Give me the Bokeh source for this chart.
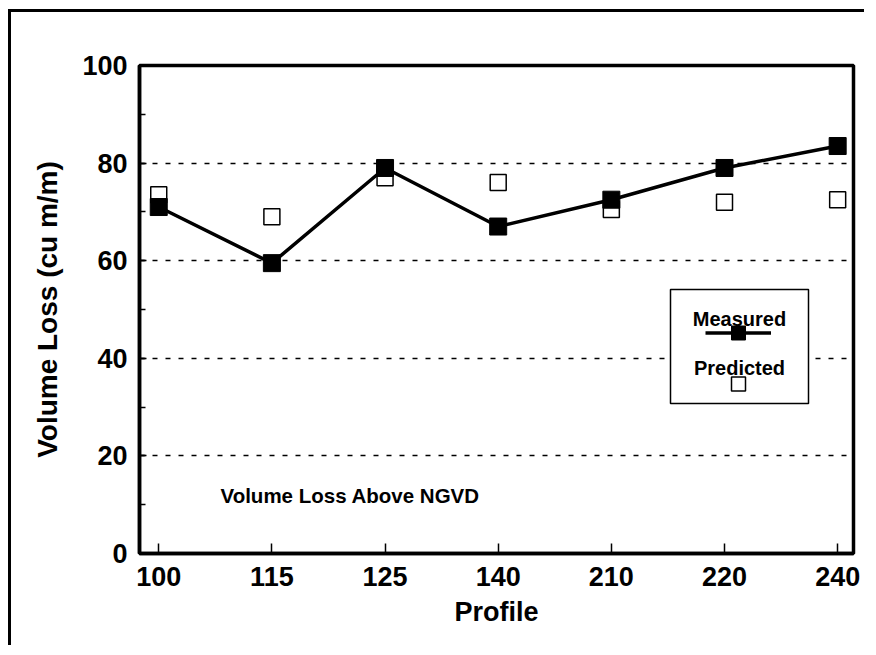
from bokeh.plotting import figure
from bokeh.models import (Range1d, FixedTicker, SingleIntervalTicker, Label, BoxAnnotation,
                          Legend, LegendItem, ColumnDataSource)
from bokeh.embed import file_html
from bokeh.resources import INLINE

profiles = ["100", "115", "125", "140", "210", "220", "240"]
measured = [71, 59.5, 79, 67, 72.5, 79, 83.5]
predicted = [73.5, 69, 77, 76, 70.5, 72, 72.5]

FONT = "Liberation Sans"

idx = list(range(len(profiles)))
src = ColumnDataSource(dict(x=idx, m=measured, p=predicted))

p = figure(width=856, height=636, output_backend="svg", toolbar_location=None,
           x_range=Range1d(-0.17, 6.14), y_range=Range1d(0, 100),
           min_border_left=128, min_border_right=14, min_border_top=53, min_border_bottom=95)
p.styles = {"border-left": "3px solid black", "border-top": "3px solid black",
            "margin-left": "8px", "margin-top": "9px"}
p.background_fill_color = "white"
p.border_fill_color = "white"
p.outline_line_color = "black"
p.outline_line_width = 3.5

# axes
p.xaxis.ticker = FixedTicker(ticks=idx)
p.xaxis.major_label_overrides = {i: s for i, s in zip(idx, profiles)}
p.yaxis.ticker = SingleIntervalTicker(interval=20, num_minor_ticks=2)
for ax in (p.xaxis, p.yaxis):
    ax.axis_line_width = 3.5
    ax.axis_line_color = "black"
    ax.major_tick_out = 0
    ax.minor_tick_out = 0
    ax.major_tick_line_width = 1.5
    ax.minor_tick_line_width = 1.5
    ax.major_label_text_font = FONT
    ax.major_label_text_font_style = "bold"
    ax.major_label_text_font_size = "27px"
    ax.major_label_text_color = "black"
    ax.axis_label_text_font = FONT
    ax.axis_label_text_font_style = "bold"
    ax.axis_label_text_color = "black"
p.xaxis.axis_label_text_font_size = "27px"
p.yaxis.axis_label_text_font_size = "28px"
p.xaxis.major_tick_in = 10
p.xaxis.minor_tick_in = 0
p.yaxis.major_tick_in = 7
p.yaxis.minor_tick_in = 6
p.xaxis.major_label_standoff = 13
p.yaxis.major_label_standoff = 12
p.xaxis.axis_label = "Profile"
p.yaxis.axis_label = "Volume Loss (cu m/m)"
p.xaxis.axis_label_standoff = 8
p.yaxis.axis_label_standoff = 16

p.xgrid.grid_line_color = None
p.ygrid.ticker = FixedTicker(ticks=[20, 40, 60, 80])
p.ygrid.grid_line_color = "black"
p.ygrid.grid_line_width = 1.5
p.ygrid.grid_line_dash = "5 8"

# data
pred_r = p.scatter("x", "p", source=src, marker="square", size=16, fill_color="white",
                   line_color="black", line_width=1.5)
line_r = p.line("x", "m", source=src, line_color="black", line_width=3.5)
meas_r = p.scatter("x", "m", source=src, marker="square", size=17, fill_color="black",
                   line_color="black", line_width=1)

# annotation text
p.add_layout(Label(x=81, y=58, x_units="screen", y_units="screen",
                   text="Volume Loss Above NGVD", text_font=FONT, text_font_style="bold",
                   text_font_size="20.5px", text_color="black", text_baseline="alphabetic"))

# legend box
p.add_layout(BoxAnnotation(left=531, right=669, top=264, bottom=150,
                           left_units="screen", right_units="screen",
                           top_units="screen", bottom_units="screen",
                           fill_color="white", fill_alpha=1.0,
                           line_color="black", line_alpha=1.0, line_width=1.5,
                           level="annotation"))
p.add_layout(Label(x=600, y=235, x_units="screen", y_units="screen", text="Measured",
                   text_font=FONT, text_font_style="bold", text_font_size="20px",
                   text_align="center", text_baseline="alphabetic", text_color="black"))
p.add_layout(Label(x=600, y=186, x_units="screen", y_units="screen", text="Predicted",
                   text_font=FONT, text_font_style="bold", text_font_size="20px",
                   text_align="center", text_baseline="alphabetic", text_color="black"))

legend = Legend(items=[LegendItem(label=" ", renderers=[line_r, meas_r]),
                       LegendItem(label=" ", renderers=[pred_r])],
                location=(566, 152), padding=0, margin=0, spacing=16,
                glyph_width=66, glyph_height=35, label_standoff=0, label_width=0,
                label_height=0, label_text_font_size="1px",
                border_line_color=None, background_fill_alpha=0)
p.add_layout(legend)

open("out.html", "w").write(file_html(p, INLINE))
